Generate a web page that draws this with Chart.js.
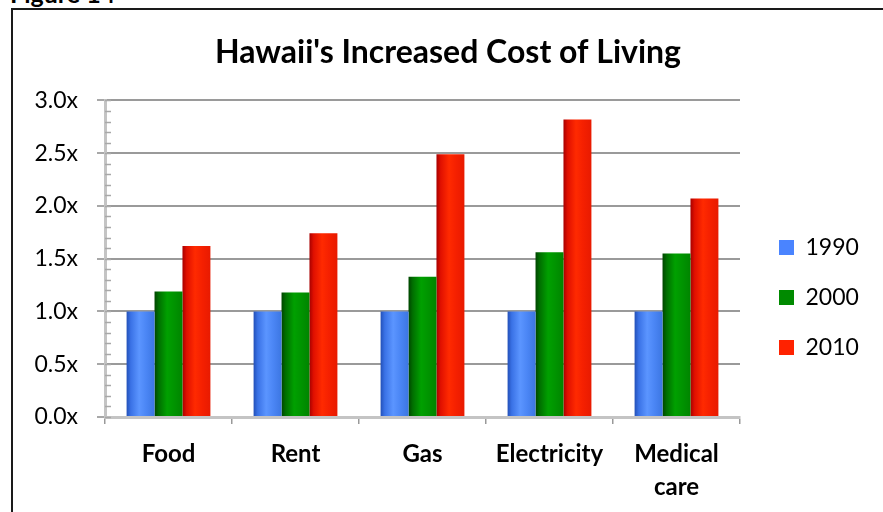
<!DOCTYPE html>
<html>
<head>
<meta charset="utf-8">
<script src="https://cdn.jsdelivr.net/npm/chart.js@4"></script>
<style>
  html, body { margin: 0; padding: 0; background: #fff; overflow: hidden; }
  body { width: 883px; height: 512px; position: relative; }
  #frame { position: absolute; left: 11px; top: 8px; width: 1000px; height: 600px;
           border-left: 2px solid #1a1a1a; border-top: 2px solid #1a1a1a; }
  #fig { position: absolute; left: 10px; top: -22px; font: bold 25px Lato, sans-serif; color: #000; white-space: nowrap; }
  #c { position: absolute; left: 0; top: 0; }
</style>
</head>
<body>
<div id="fig">Figure 14</div>
<div id="frame"></div>
<canvas id="c" width="883" height="512"></canvas>
<script>
const categories = ['Food', 'Rent', 'Gas', 'Electricity', ['Medical', 'care']];
const seriesNames = ['1990', '2000', '2010'];
const values1990 = [1.0, 1.0, 1.0, 1.0, 1.0];
const values2000 = [1.19, 1.18, 1.33, 1.56, 1.55];
const values2010 = [1.62, 1.74, 2.49, 2.82, 2.07];
const yMin = 0, yMax = 3.0, yStep = 0.5, yMinorStep = 0.1;

const flatColors = ['#4a84ff', '#008a00', '#ff2200'];
const gradColors = [
  ['#2350b8', '#3a72e6', '#5b95ff', '#4b86f5', '#3c76e2'],
  ['#004600', '#006f00', '#00a000', '#009400', '#008400'],
  ['#a80000', '#e01000', '#ff2a00', '#f52000', '#e81a00']
];

const barGradient = {
  id: 'barGradient',
  beforeDatasetsDraw(chart) {
    const ctx = chart.ctx;
    chart.data.datasets.forEach((ds, i) => {
      const meta = chart.getDatasetMeta(i);
      const c = gradColors[i];
      meta.data.forEach(el => {
        const l = el.x - el.width / 2, r = el.x + el.width / 2;
        const g = ctx.createLinearGradient(l, 0, r, 0);
        g.addColorStop(0, c[0]);
        g.addColorStop(0.15, c[1]);
        g.addColorStop(0.45, c[2]);
        g.addColorStop(0.7, c[3]);
        g.addColorStop(1, c[4]);
        el.options.backgroundColor = g;
      });
    });
  }
};

const minorTicks = {
  id: 'minorTicks',
  afterDatasetsDraw(chart) {
    const ys = chart.scales.y, ctx = chart.ctx;
    const x0 = chart.chartArea.left;
    ctx.save();
    ctx.strokeStyle = '#a8a8a8';
    ctx.lineWidth = 1.5;
    for (let k = 0; k <= Math.round((yMax - yMin) / yMinorStep); k++) {
      const v = yMin + k * yMinorStep;
      const y = Math.round(ys.getPixelForValue(v)) + 0.5;
      ctx.beginPath();
      ctx.moveTo(x0, y);
      ctx.lineTo(x0 + 6, y);
      ctx.stroke();
    }
    ctx.restore();
  }
};

const boxPlace = {
  id: 'boxPlace',
  afterLayout(chart) {
    const lg = chart.legend;
    if (lg) {
      const w = lg.width, h = lg.height;
      lg.left = 752; lg.right = 752 + w;
      lg.top = 209; lg.bottom = 209 + h;
    }
    const tb = chart.titleBlock;
    if (tb) {
      tb.left = 13; tb.right = 883; tb.width = 870;
    }
  }
};

const valueSets = [values1990, values2000, values2010];
const datasets = seriesNames.map((name, i) => ({
  label: name,
  data: valueSets[i],
  backgroundColor: () => flatColors[i],
  borderWidth: 0,
  barPercentage: 1.0,
  categoryPercentage: 0.66
}));

new Chart(document.getElementById('c'), {
  type: 'bar',
  data: { labels: categories, datasets },
  plugins: [barGradient, minorTicks, boxPlace],
  options: {
    responsive: false,
    animation: false,
    devicePixelRatio: 1,
    layout: { padding: { left: 0, right: 143, top: 0, bottom: 0 } },
    plugins: {
      title: {
        display: true,
        text: "Hawaii's Increased Cost of Living",
        color: '#000',
        font: { family: 'Lato', size: 32, weight: 'bold' },
        padding: { top: 33, bottom: 29 }
      },
      legend: {
        position: 'chartArea',
        align: 'start',
        labels: {
          boxWidth: 15, boxHeight: 15, padding: 27,
          color: '#000',
          font: { family: 'Lato', size: 23 }
        }
      },
      tooltip: { enabled: false }
    },
    scales: {
      x: {
        afterFit: s => { s.height = 95; },
        grid: { display: true, drawOnChartArea: false, offset: true, tickLength: 7, tickColor: '#999', lineWidth: 1.5 },
        border: { display: true, color: '#c4c4c4', width: 3 },
        ticks: { color: '#000', padding: 14, font: { family: 'Lato', size: 24, weight: 'bold', lineHeight: 1.38 }, maxRotation: 0 }
      },
      y: {
        min: yMin, max: yMax,
        afterFit: s => { s.width = 105; },
        ticks: {
          stepSize: yStep, color: '#000', padding: 19,
          font: { family: 'Lato', size: 23 },
          callback: v => v.toFixed(1) + 'x'
        },
        grid: { color: '#9a9a9a', lineWidth: 2, tickLength: 8, tickColor: '#a8a8a8' },
        border: { display: true, color: '#c4c4c4', width: 3 }
      }
    }
  }
});
</script>
</body>
</html>
